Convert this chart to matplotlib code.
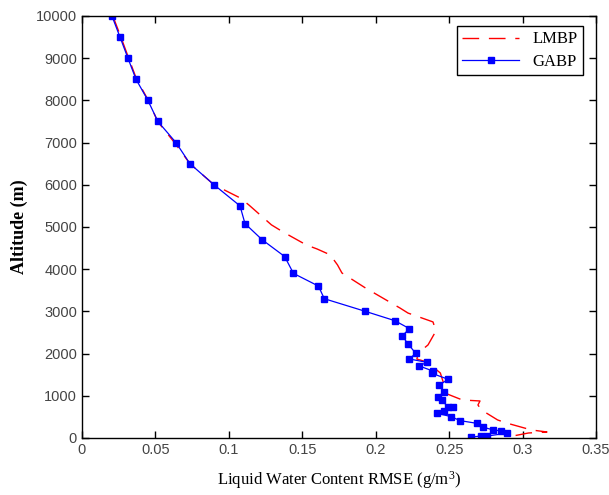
import matplotlib
matplotlib.use("Agg")
import matplotlib.pyplot as plt

# LMBP retrieval error profile
lmbp_rmse = [0.0210, 0.0265, 0.0318, 0.0372, 0.0452, 0.0515, 0.0630, 0.0735,
             0.0899, 0.1076, 0.1137, 0.1290, 0.1370, 0.1530, 0.1600, 0.1690,
             0.1740, 0.1770, 0.1930, 0.2165, 0.2220, 0.2390, 0.2410, 0.2356,
             0.2290, 0.2280, 0.2350, 0.2440, 0.2485, 0.2590, 0.2710, 0.2696,
             0.2720, 0.2830, 0.2890, 0.3060, 0.3166, 0.3040, 0.2900]
lmbp_alt = [10000, 9500, 9000, 8500, 8000, 7500, 7000, 6500,
            6000, 5690, 5520, 5050, 4880, 4570, 4480, 4340,
            4100, 3910, 3555, 3080, 2960, 2750, 2535, 2205,
            2015, 1870, 1800, 1540, 1045, 900, 877, 782,
            663, 427, 355, 190, 142, 118, 24]

# GABP retrieval error profile
gabp_rmse = [0.0204, 0.0259, 0.0313, 0.0368, 0.0449, 0.0517, 0.0640, 0.0735,
             0.0899, 0.1076, 0.1110, 0.1226, 0.1380, 0.1440, 0.1610, 0.1650,
             0.1930, 0.2130, 0.2230, 0.2180, 0.2220, 0.2272, 0.2229, 0.2347,
             0.2297, 0.2388, 0.2381, 0.2494, 0.2433, 0.2467, 0.2426, 0.2449,
             0.2494, 0.2528, 0.2467, 0.2419, 0.2513, 0.2574, 0.2687, 0.2733,
             0.2801, 0.2850, 0.2892, 0.2760, 0.2720, 0.2647]
gabp_alt = [10000, 9500, 9000, 8500, 8000, 7500, 7000, 6500,
            6000, 5500, 5080, 4700, 4300, 3900, 3600, 3300,
            3000, 2780, 2590, 2420, 2230, 2007, 1872, 1793,
            1706, 1588, 1533, 1390, 1256, 1098, 979, 900,
            727, 742, 648, 585, 506, 411, 348, 254,
            190, 170, 111, 47, 50, 17]

x_ticks = [0, 0.05, 0.1, 0.15, 0.2, 0.25, 0.3, 0.35]
x_tick_labels = ["0", "0.05", "0.1", "0.15", "0.2", "0.25", "0.3", "0.35"]
y_ticks = list(range(0, 10001, 1000))

fig = plt.figure(figsize=(6.09, 4.95), dpi=100)
ax = fig.add_axes([0.1346, 0.1152, 0.8441, 0.8525])

ax.plot(lmbp_rmse, lmbp_alt, color="#ff0000", linestyle=(0, (12, 7)),
        linewidth=1.0, label="LMBP")
ax.plot(gabp_rmse, gabp_alt, color="#0000ff", linestyle="-", linewidth=0.9,
        marker="s", markersize=4, label="GABP")

ax.set_xlim(0, 0.35)
ax.set_ylim(0, 10000)
ax.set_xticks(x_ticks)
ax.set_xticklabels(x_tick_labels)
ax.set_yticks(y_ticks)

ax.tick_params(direction="in", top=True, right=True, length=5,
               labelsize=10.5, labelcolor="#444444", width=1.0)
for lbl in ax.get_xticklabels() + ax.get_yticklabels():
    lbl.set_family("Liberation Sans")
for sp in ax.spines.values():
    sp.set_linewidth(1.0)

ax.set_xlabel(r"Liquid Water Content RMSE $\mathregular{(g/m^{3})}$",
              family="Liberation Serif", fontsize=12, labelpad=9)
ax.set_ylabel("Altitude (m)", family="Liberation Serif", fontsize=13,
              fontweight="bold", labelpad=6)

leg = ax.legend(loc="upper right", prop={"family": "Liberation Serif", "size": 12},
                fancybox=False, edgecolor="black", framealpha=1,
                handlelength=3.4, borderpad=0.3, labelspacing=0.4,
                bbox_to_anchor=(0.99, 0.995))
leg.get_frame().set_linewidth(1.0)

fig.savefig("out.png", dpi=100)
